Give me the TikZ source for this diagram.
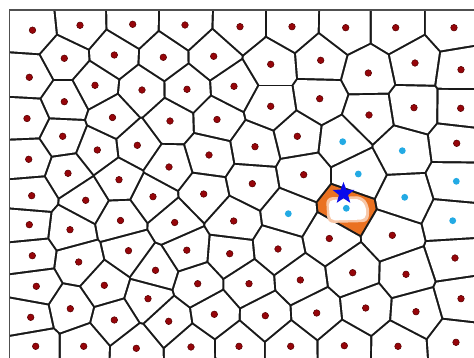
\documentclass[tikz,border=0pt]{standalone}
\usetikzlibrary{shapes.geometric}
\definecolor{edgec}{RGB}{25,25,25}
\definecolor{dotred}{RGB}{150,5,10}
\definecolor{dotedge}{RGB}{85,0,0}
\definecolor{cyandot}{RGB}{35,170,228}
\definecolor{cellorange}{RGB}{234,113,33}
\definecolor{starblue}{RGB}{10,10,235}
\definecolor{framec}{RGB}{80,80,80}
\def\seedlist{32.5/30.2/0, 80/25.3/0, 132.7/24.3/0, 185/25/0, 240/26.7/0, 292/26.7/0, 345.7/27.7/0, 395.7/27.7/0, 454/27.7/0,
64.3/58.3/0, 114.3/55/0, 163.3/57.3/0, 213.7/56.3/0, 270.7/64.3/0, 320.7/60.3/0, 368.3/73/0, 415/63/0, 461/69.7/0,
29.3/77.3/0, 95/85.3/0, 142/90/0, 187/89.3/0, 234/86.3/0, 64.3/101.7/0, 270.7/106.3/0, 319.7/98.7/0, 414/107.7/0, 460.7/108.3/0, 369/115/0,
27/118.5/0, 112.5/117.5/0, 170/121/0, 217/119.5/0,
62.7/136.3/0, 97.3/150/0, 137.3/145.3/0, 28.7/159.3/0, 68/173.3/0, 119/179.7/0, 31.7/195.7/0, 85.7/200.3/0, 153/196.7/0, 120.5/220.5/0, 29.3/224.7/0, 70/229.7/0,
209/155/0, 255/146.7/0, 297.3/136.3/0, 169/167/0, 303.7/174.7/0, 252.3/183.7/0, 203.7/194/0, 174.7/222.5/0, 233.7/221/0,
288.3/213.7/1, 342.7/141.7/1, 402.3/150.7/1, 358.3/174/1, 456.3/181.3/1, 404.7/197.3/1, 452.7/220.7/1, 346.3/208.3/2,
456.7/143.3/0, 392.3/235.3/0, 329.3/238.5/0,
32.3/255.7/0, 78.7/262/0, 128.5/250.7/0, 155.5/270.3/0, 36.3/286.3/0, 104.3/285.3/0, 148/298.7/0, 70.3/308.7/0, 30.7/317.3/0, 114.3/320/0, 35.7/346.3/0, 83.7/346.3/0, 136.3/348.3/0,
186.8/250.2/0, 229.7/253.7/0, 278/249/0, 197.7/283.7/0, 249/283.7/0, 300.3/280/0, 168.7/321.3/0, 214.3/314.3/0, 265.3/315.7/0, 191/347/0, 239/346.3/0, 290.7/346.3/0,
455/258/0, 352.7/272.7/0, 406/274.3/0, 461/298.7/0, 316.7/313/0, 365.7/308/0, 416/311.7/0, 344.3/345.7/0, 398/346.3/0, 456/342.3/0}
\def\halfw{1.1}
\tikzset{
  reddot/.style={fill=dotred, draw=dotedge, line width=0.5pt},
  cyanseed/.style={fill=cyandot},
  framestyle/.style={draw=framec, line width=1.4pt}
}
\begin{document}
\begin{tikzpicture}[x=1pt,y=-1pt]
\useasboundingbox (0,0) rectangle (474,358);
\fill[white] (0,0) rectangle (474,358);
\fill[edgec] (8.5,9.5) rectangle (474,358);
% Voronoi cells: each cell = intersection of half-planes, shrunk by half the edge width
\foreach \ax/\ay/\ta in \seedlist {
  \begin{scope}
    \clip (10.1,11.1) rectangle (490,370);
    \foreach \bx/\by/\tb in \seedlist {
      \pgfmathsetmacro\vdx{(\bx-\ax)/10}
      \pgfmathsetmacro\vdy{(\by-\ay)/10}
      \pgfmathsetmacro\vdd{(\vdx)*(\vdx)+(\vdy)*(\vdy)}
      \ifdim\vdd pt>0.001pt\relax
        \ifdim\vdd pt<144pt\relax
          \pgfmathsetmacro\vlen{sqrt(\vdd)}
          \pgfmathsetmacro\vux{(\vdx)/\vlen}
          \pgfmathsetmacro\vuy{(\vdy)/\vlen}
          \pgfmathsetmacro\vmx{(\ax+\bx)/2-\halfw*(\vux)}
          \pgfmathsetmacro\vmy{(\ay+\by)/2-\halfw*(\vuy)}
          \clip ({\vmx-1000*(\vuy)},{\vmy+1000*(\vux)})
             -- ({\vmx+1000*(\vuy)},{\vmy-1000*(\vux)})
             -- ({\vmx+1000*(\vuy)-1000*(\vux)},{\vmy-1000*(\vux)-1000*(\vuy)})
             -- ({\vmx-1000*(\vuy)-1000*(\vux)},{\vmy+1000*(\vux)-1000*(\vuy)}) -- cycle;
        \fi
      \fi
    }
    \ifnum\ta=2
      \fill[cellorange] (0,0) rectangle (490,370);
    \else
      \fill[white] (0,0) rectangle (490,370);
    \fi
  \end{scope}
}
% frame
\draw[framestyle] (9.2,358) -- (9.2,10.2) -- (474,10.2);
% white blob inside the highlighted cell
\fill[cellorange!40!white, rounded corners=6pt] (326,197.5) -- (362,196) -- (369.5,206) -- (368.5,222) -- (327.5,223) -- cycle;
\fill[white, rounded corners=5pt] (328.5,200) -- (360,198.8) -- (366.5,207) -- (365.8,219.5) -- (330,220.5) -- cycle;
% seeds
\foreach \ax/\ay/\ta in \seedlist {
  \ifnum\ta=0
    \path[reddot] (\ax,\ay) circle[radius=3.3];
  \else
    \fill[cyanseed] (\ax,\ay) circle[radius=3.4];
  \fi
}
\node[star, star points=5, star point ratio=2.4, fill=starblue, minimum size=23pt, inner sep=0pt] (star) at (343.5,193.5) {};
\end{tikzpicture}
\end{document}
